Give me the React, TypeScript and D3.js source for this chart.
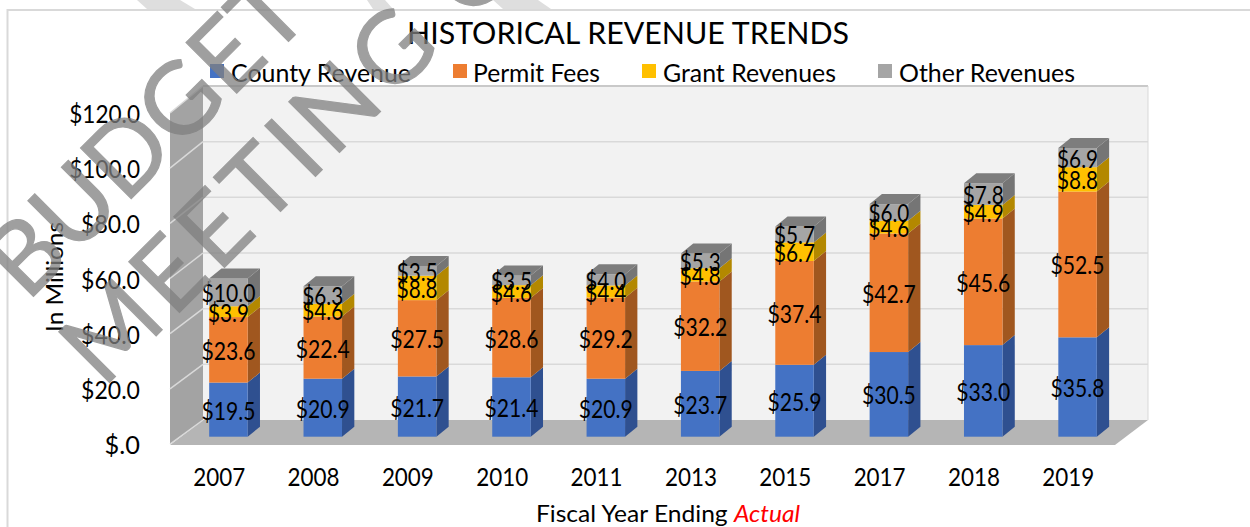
import React from "react";
import * as d3 from "d3";

const years = ["2007","2008","2009","2010","2011","2013","2015","2017","2018","2019"];
const seriesNames = ["County Revenue","Permit Fees","Grant Revenues","Other Revenues"];
const countyRevenue = [19.5,20.9,21.7,21.4,20.9,23.7,25.9,30.5,33.0,35.8];
const permitFees = [23.6,22.4,27.5,28.6,29.2,32.2,37.4,42.7,45.6,52.5];
const grantRevenues = [3.9,4.6,8.8,4.6,4.4,4.8,6.7,4.6,4.9,8.8];
const otherRevenues = [10.0,6.3,3.5,3.5,4.0,5.3,5.7,6.0,7.8,6.9];
const tickValues = [0,20,40,60,80,100,120];
const tickLabels = ["$.0","$20.0","$40.0","$60.0","$80.0","$100.0","$120.0"];

const faceColors = ["#4472c4","#ed7d31","#ffc000","#a5a5a5"];
const sideColors = ["#2f5090","#a0571f","#b38800","#757575"];
const topColor = "#7d7d7d";
const font = "Lato, 'Open Sans', sans-serif";

const x = d3.scaleBand<string>().domain(years).range([172,1115.5]);
const yFront = d3.scaleLinear().domain([0,120]).range([444,113]);
const yBack = d3.scaleLinear().domain([0,120]).range([420,86]);
const yBar = d3.scaleLinear().domain([0,120]).range([436.7,103.6]);
const stackData = years.map((_, i) => ({
  year: years[i],
  [seriesNames[0]]: countyRevenue[i],
  [seriesNames[1]]: permitFees[i],
  [seriesNames[2]]: grantRevenues[i],
  [seriesNames[3]]: otherRevenues[i],
}));
const stacked = d3.stack<any>().keys(seriesNames)(stackData);

const depthX = 12.3;
const depthY = -10;
const barW = 38.5;
const barShift = -10;
const poly = (pts: number[][]) => pts.map(p => p.join(",")).join(" ");

const legendPos = [
  { sx: 210, tx: 231, w: 180 },
  { sx: 453, tx: 473, w: 127 },
  { sx: 642, tx: 663, w: 173 },
  { sx: 878, tx: 899, w: 176 },
];

export default function App() {
  return (
    <svg width={1250} height={527} style={{ position: "fixed", left: 0, top: 0, display: "block", background: "#fff" }} fontFamily={font}>
      {/* faint watermark remnants above the frame */}
      <g fill="#dedede">
        <polygon points={poly([[137,0],[180,0],[195,9],[147,9]])} />
        <polygon points={poly([[367,0],[385,0],[393,9],[373,9]])} />
        <polygon points={poly([[493,0],[538,0],[551,9],[503,9]])} />
      </g>
      <path d="M1250,10H7.5V527" fill="none" stroke="#d9d9d9" strokeWidth={2} />

      {/* 3D walls */}
      <rect x={203} y={86} width={945} height={334} fill="#f2f2f2" />
      <polygon points={poly([[170,yFront(0)],[203,yBack(0)],[203,yBack(120)],[170,yFront(120)]])} fill="#a3a3a3" />
      <polygon points={poly([[170,445],[1115,445],[1148,yBack(0)],[203,yBack(0)]])} fill="#b5b5b5" />
      {tickValues.map(t => (
        <g key={t}>
          <line x1={170} x2={203} y1={yFront(t)} y2={yBack(t)} stroke="#d9d9d9" strokeWidth={1.5} />
          {t > 0 && <line x1={203} x2={1148} y1={yBack(t)} y2={yBack(t)} stroke={t===120 ? "#c9c9c9" : "#d9d9d9"} strokeWidth={t===120 ? 2 : 1.5} />}
        </g>
      ))}
      <line x1={1148} x2={1148} y1={86} y2={420} stroke="#d9d9d9" strokeWidth={1} />

      {/* bars */}
      {years.map((yr, i) => {
        const x0 = x(yr)! + x.bandwidth()/2 + barShift;
        return (
          <g key={yr}>
            {stacked.map((s, k) => {
              const y0 = yBar(s[i][0]);
              const y1 = yBar(s[i][1]);
              return (
                <g key={k}>
                  <polygon fill={sideColors[k]} points={poly([[x0+barW,y0],[x0+barW+depthX,y0+depthY],[x0+barW+depthX,y1+depthY],[x0+barW,y1]])} />
                  <rect x={x0} y={y1} width={barW} height={y0-y1} fill={faceColors[k]} />
                  {k === 3 && <polygon fill={topColor} points={poly([[x0,y1],[x0+depthX,y1+depthY],[x0+barW+depthX,y1+depthY],[x0+barW,y1]])} />}
                </g>
              );
            })}
          </g>
        );
      })}
      {/* data labels */}
      <g fontSize={25} textAnchor="middle" fill="#000">
        {years.map((yr, i) => stacked.map((s, k) => {
          const label = "$" + (s[i][1]-s[i][0]).toFixed(1);
          return (
            <text key={yr + k} x={x(yr)! + x.bandwidth()/2 + barShift + barW/2} y={(yBar(s[i][0]) + yBar(s[i][1]))/2} dominantBaseline="central" textLength={label.length > 4 ? 54 : 41} lengthAdjust="spacingAndGlyphs">
              {label}
            </text>
          );
        }))}
      </g>

      {/* axes */}
      <g fontSize={25} textAnchor="end" fill="#000">
        {tickValues.map((t, i) => (
          <text key={t} x={140} y={yFront(t)} dominantBaseline="central" textLength={tickLabels[i].length * 11.8} lengthAdjust="spacingAndGlyphs">{tickLabels[i]}</text>
        ))}
      </g>
      <g fontSize={25} textAnchor="middle" fill="#000">
        {years.map(yr => (
          <text key={yr} x={x(yr)! + x.bandwidth()/2} y={476} dominantBaseline="central" textLength={52} lengthAdjust="spacingAndGlyphs">{yr}</text>
        ))}
      </g>
      <text transform="translate(53,277) rotate(-90)" fontSize={24} textAnchor="middle" dominantBaseline="central" textLength={110} lengthAdjust="spacingAndGlyphs">In Millions</text>
      <text x={536} y={512} fontSize={24} dominantBaseline="central" textLength={264} lengthAdjust="spacingAndGlyphs">
        Fiscal Year Ending <tspan fill="#ff0000" fontStyle="italic">Actual</tspan>
      </text>

      {/* title and legend */}
      <text x={407} y={32} fontSize={30} dominantBaseline="central" textLength={442} lengthAdjust="spacingAndGlyphs">HISTORICAL REVENUE TRENDS</text>
      {seriesNames.map((n, i) => (
        <g key={n}>
          <rect x={legendPos[i].sx} y={64} width={14} height={14} fill={faceColors[i]} />
          <text x={legendPos[i].tx} y={71.5} fontSize={25} dominantBaseline="central" textLength={legendPos[i].w} lengthAdjust="spacingAndGlyphs">{n}</text>
        </g>
      ))}

      {/* watermark */}
      <g fontFamily="Lato, sans-serif" fontSize={100} fill="#808080" stroke="#808080" strokeWidth={1.2}>
        <text transform="translate(27,303) rotate(-45)" opacity={0.75}>BUDGET</text>
        <text transform="translate(103,389) rotate(-45)" opacity={0.75} letterSpacing={6}>MEETING O</text>
      </g>
    </svg>
  );
}
